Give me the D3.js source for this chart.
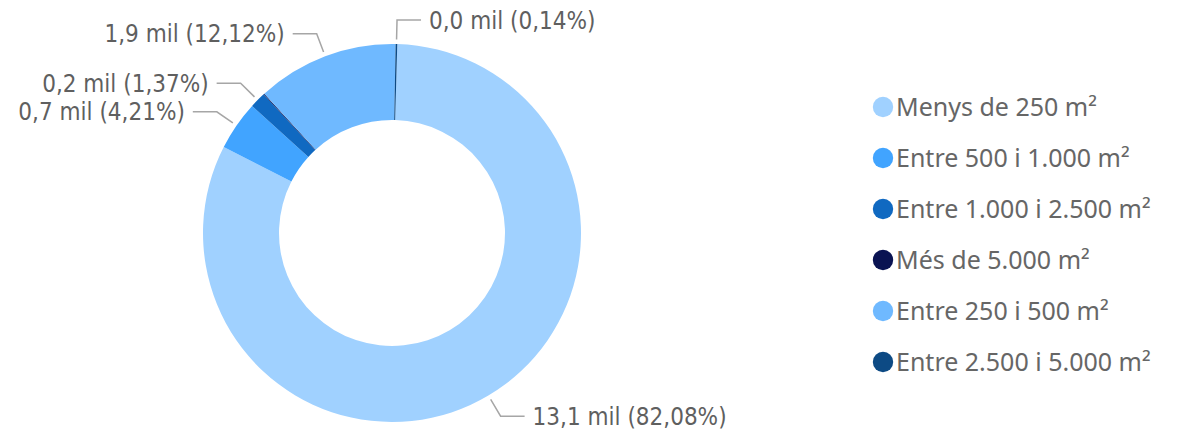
<!DOCTYPE html>
<html><head><meta charset="utf-8">
<script src="https://cdn.jsdelivr.net/npm/d3@7"></script>
<style>body{margin:0;background:#fff}</style>
</head><body>
<svg id="chart" width="1181" height="430"></svg>
<script>
// Data
const categories = ["Menys de 250 m²","Entre 500 i 1.000 m²","Entre 1.000 i 2.500 m²","Més de 5.000 m²","Entre 250 i 500 m²","Entre 2.500 i 5.000 m²"];
const counts = [13100, 672, 219, 13, 1934, 22];
const colors = ["#A0D1FF","#41A4FF","#1069C1","#0A1352","#6FB9FF","#0D4A84"];

const W = 1181, H = 430;
const cx = 392, cy = 233, rOuter = 189, rInner = 113;
const offset = 1.6 * Math.PI / 180;

const svg = d3.select("#chart");
const total = d3.sum(counts);
const data = categories.map((c,i)=>({cat:c, value:counts[i], color:colors[i]}));

const pie = d3.pie().value(d=>d.value).sort(null).startAngle(offset).endAngle(offset + 2*Math.PI);
const arcs = pie(data);
const arc = d3.arc().innerRadius(rInner).outerRadius(rOuter);

const g = svg.append("g").attr("transform",`translate(${cx},${cy})`);
g.selectAll("path.slice").data(arcs).join("path")
  .attr("class","slice")
  .attr("d",arc)
  .attr("fill",d=>d.data.color);

// Labels
const fmt1 = v => (v/1000).toFixed(1).replace(".",",");
const fmtP = v => (v*100/total).toFixed(2).replace(".",",");
const r1 = rOuter + 4.5, r2 = 213, hLen = 24, gap = 8;
const labelled = arcs.filter(d => d.data.value/total >= 0.001);
labelled.forEach(d=>{
  const a = (d.startAngle + d.endAngle)/2;
  const sx = Math.sin(a), sy = -Math.cos(a);
  const p1 = [r1*sx, r1*sy], p2 = [r2*sx, r2*sy];
  const dir = sx >= 0 ? 1 : -1;
  const p3 = [p2[0] + dir*hLen, p2[1]];
  g.append("polyline")
    .attr("points",[p1,p2,p3].map(p=>p.join(",")).join(" "))
    .attr("fill","none").attr("stroke","#A6A6A6").attr("stroke-width",1.5);
  g.append("text")
    .attr("x", p3[0] + dir*gap)
    .attr("y", p3[1] + 8.5)
    .attr("text-anchor", dir>0 ? "start" : "end")
    .style("font-family","'DejaVu Sans Condensed','DejaVu Sans',sans-serif")
    .style("font-stretch","condensed")
    .style("font-size","24px")
    .attr("fill","#5F5F5F")
    .text(`${fmt1(d.data.value)} mil (${fmtP(d.data.value)}%)`);
});

// Legend
const legY = d3.scalePoint().domain(categories).range([107, 362]);
const leg = svg.append("g");
const items = leg.selectAll("g").data(data).join("g")
  .attr("transform",d=>`translate(883,${legY(d.cat)})`);
items.append("circle").attr("r",10.2).attr("fill",d=>d.color);
items.append("text")
  .attr("x",13).attr("y",9)
  .style("font-family","'Noto Sans','Open Sans',sans-serif")
  .style("font-size","25px")
  .attr("fill","#666666")
  .text(d=>d.cat);
</script>
</body></html>
